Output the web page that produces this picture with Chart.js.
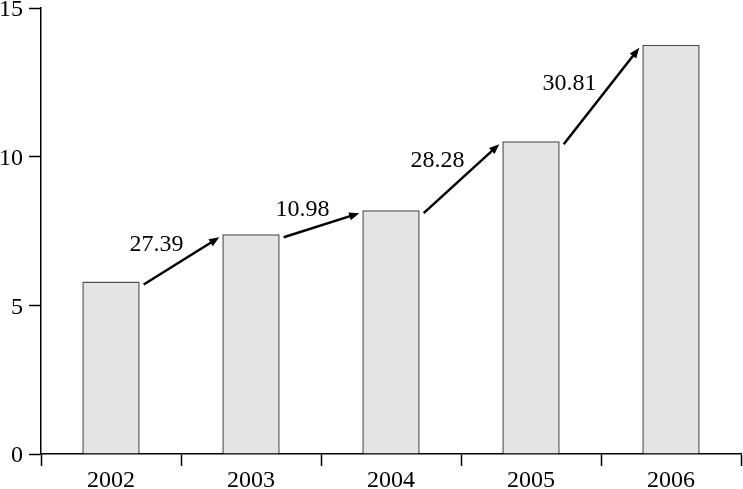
<!DOCTYPE html>
<html lang="en">
<head>
    <meta charset="UTF-8">
    <title>Growth Bar Chart</title>
    <script src="https://cdn.jsdelivr.net/npm/chart.js"></script>
    <style>
        html, body { margin: 0; padding: 0; background: #fff; }
        .wrap { width: 743px; height: 489px; }
    </style>
</head>
<body>
    <div class="wrap">
        <canvas id="myChart" width="743" height="489"></canvas>
    </div>

    <script>
        // Data
        const years = ['2002', '2003', '2004', '2005', '2006'];
        const values = [5.8, 7.39, 8.2, 10.52, 13.76];
        const growthLabels = ['27.39', '10.98', '28.28', '30.81'];
        const yTicks = [0, 5, 10, 15];

        const FONT = "'Liberation Serif', 'Times New Roman', serif";
        // small nudges of each growth label from its arrow's midpoint
        const labelNudge = [[-25, -16], [-19, -16], [-24, -18], [-32, -12]];

        // Draw arrows between bar tops with the growth rate beside each one
        const growthArrows = {
            id: 'growthArrows',
            afterDatasetsDraw(chart) {
                const ctx = chart.ctx;
                const bars = chart.getDatasetMeta(0).data;
                ctx.save();
                for (let i = 0; i < bars.length - 1; i++) {
                    const a = bars[i], b = bars[i + 1];
                    const x1 = a.x + a.width / 2 + 4, y1 = a.y + 3;
                    const x2 = b.x - b.width / 2 - 3, y2 = b.y + 3;
                    const ang = Math.atan2(y2 - y1, x2 - x1);
                    const head = 11;

                    ctx.strokeStyle = '#000';
                    ctx.fillStyle = '#000';
                    ctx.lineWidth = 2.5;
                    ctx.beginPath();
                    ctx.moveTo(x1, y1);
                    ctx.lineTo(x2 - Math.cos(ang) * head * 0.8, y2 - Math.sin(ang) * head * 0.8);
                    ctx.stroke();

                    ctx.beginPath();
                    ctx.moveTo(x2, y2);
                    ctx.lineTo(x2 - head * Math.cos(ang - 0.38), y2 - head * Math.sin(ang - 0.38));
                    ctx.lineTo(x2 - head * Math.cos(ang + 0.38), y2 - head * Math.sin(ang + 0.38));
                    ctx.closePath();
                    ctx.fill();

                    // label up-left of the arrow midpoint
                    const mx = (x1 + x2) / 2, my = (y1 + y2) / 2;
                    ctx.font = '24px ' + FONT;
                    ctx.textAlign = 'center';
                    ctx.textBaseline = 'middle';
                    ctx.fillText(growthLabels[i], mx + labelNudge[i][0], my + labelNudge[i][1]);
                }
                ctx.restore();
            }
        };

        const ctx = document.getElementById('myChart').getContext('2d');
        const chart = new Chart(ctx, {
            type: 'bar',
            data: {
                labels: years,
                datasets: [{
                    data: values,
                    backgroundColor: '#e4e4e4',
                    borderColor: '#505050',
                    borderWidth: 1.5,
                    barPercentage: 0.41,
                    categoryPercentage: 1.0
                }]
            },
            options: {
                responsive: false,
                animation: false,
                layout: { padding: { top: 8, right: 2, left: 0, bottom: 0 } },
                plugins: {
                    legend: { display: false },
                    tooltip: { enabled: false }
                },
                scales: {
                    x: {
                        grid: {
                            offset: true,
                            drawOnChartArea: false,
                            drawTicks: true,
                            tickLength: 12,
                            tickWidth: 1.5,
                            color: '#000'
                        },
                        border: { color: '#000', width: 1.5 },
                        ticks: {
                            color: '#000',
                            padding: 0,
                            font: { family: FONT, size: 24 }
                        },
                        afterFit(scale) {
                            scale.height = 35;
                            scale.paddingLeft = 0;
                            scale.paddingRight = 0;
                        }
                    },
                    y: {
                        min: 0,
                        max: 15,
                        afterBuildTicks(scale) {
                            scale.ticks = yTicks.map(v => ({ value: v }));
                        },
                        grid: {
                            drawOnChartArea: false,
                            drawTicks: true,
                            tickLength: 12,
                            tickWidth: 1.5,
                            color: '#000'
                        },
                        border: { color: '#000', width: 1.5 },
                        ticks: {
                            color: '#000',
                            padding: 6,
                            labelOffset: 2,
                            font: { family: FONT, size: 24 }
                        },
                        afterFit(scale) {
                            scale.width = 41;
                            scale.paddingTop = 0;
                            scale.paddingBottom = 0;
                        }
                    }
                }
            },
            plugins: [growthArrows]
        });
    </script>
</body>
</html>
